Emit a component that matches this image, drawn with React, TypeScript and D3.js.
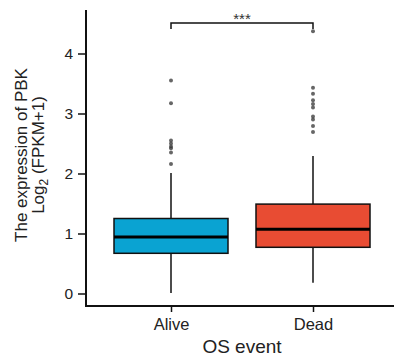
import React, { useEffect, useRef } from "react";
import * as d3 from "d3";

const groups = ["Alive", "Dead"];
const colors = ["#0AA3D2", "#E84C33"];
// [lowerWhisker, q1, median, q3, upperWhisker]
const boxStats = [
  [0.01, 0.67, 0.94, 1.25, 2.01],
  [0.18, 0.77, 1.07, 1.49, 2.29],
];
const aliveOutliers = [3.55, 3.17, 2.55, 2.5, 2.45, 2.42, 2.35, 2.16];
const deadOutliers = [4.37, 3.43, 3.33, 3.22, 3.16, 3.1, 2.95, 2.9, 2.79, 2.69];
const yTicks = [0, 1, 2, 3, 4];

const font = "'Liberation Sans', Arial, sans-serif";

export default function App() {
  const ref = useRef<SVGSVGElement>(null);

  useEffect(() => {
    const svg = d3.select(ref.current);
    svg.selectAll("*").remove();

    const x = d3.scalePoint<string>().domain(groups).range([171, 313]);
    const y = d3.scaleLinear().domain([0, 4]).range([293.5, 53.5]);
    const boxW = 114;

    // axes
    const yAxis = svg.append("g").attr("transform", "translate(86,0)")
      .call(d3.axisLeft(y).tickValues(yTicks).tickSize(8).tickPadding(5).tickFormat(d3.format("d")));
    yAxis.select(".domain").remove();
    yAxis.selectAll("line").attr("stroke", "#111").attr("stroke-width", 1.5);
    yAxis.selectAll("text").attr("font-size", 15.5).attr("font-family", font).attr("fill", "#222");
    svg.append("line").attr("x1", 86).attr("x2", 86).attr("y1", 10).attr("y2", 306.5)
      .attr("stroke", "#111").attr("stroke-width", 2);

    const xAxis = svg.append("g").attr("transform", "translate(0,306)")
      .call(d3.axisBottom(x).tickSize(6).tickPadding(6));
    xAxis.select(".domain").remove();
    xAxis.selectAll("line").attr("stroke", "#111").attr("stroke-width", 1.5);
    xAxis.selectAll("text").attr("font-size", 16.5).attr("font-family", font).attr("fill", "#222");
    svg.append("line").attr("x1", 85).attr("x2", 394).attr("y1", 306).attr("y2", 306)
      .attr("stroke", "#111").attr("stroke-width", 2);

    // boxes
    groups.forEach((g, i) => {
      const [lo, q1, med, q3, hi] = boxStats[i];
      const cx = x(g)!;
      const gg = svg.append("g");
      gg.append("line").attr("x1", cx).attr("x2", cx).attr("y1", y(hi)).attr("y2", y(q3))
        .attr("stroke", "#111").attr("stroke-width", 1.5);
      gg.append("line").attr("x1", cx).attr("x2", cx).attr("y1", y(q1)).attr("y2", y(lo))
        .attr("stroke", "#111").attr("stroke-width", 1.5);
      gg.append("rect").attr("x", cx - boxW / 2).attr("width", boxW)
        .attr("y", y(q3)).attr("height", y(q1) - y(q3))
        .attr("fill", colors[i]).attr("stroke", "#111").attr("stroke-width", 1.5);
      gg.append("line").attr("x1", cx - boxW / 2).attr("x2", cx + boxW / 2)
        .attr("y1", y(med)).attr("y2", y(med)).attr("stroke", "#000").attr("stroke-width", 3);
      const outs = i === 0 ? aliveOutliers : deadOutliers;
      gg.selectAll("circle").data(outs).join("circle")
        .attr("cx", cx).attr("cy", (d) => y(d)).attr("r", 2)
        .attr("fill", "#333").attr("fill-opacity", 0.75);
    });

    // significance bracket
    const by = 23;
    svg.append("path")
      .attr("d", `M${x("Alive")},${by + 6}V${by}H${x("Dead")}V${by + 6}`)
      .attr("fill", "none").attr("stroke", "#111").attr("stroke-width", 1.5);
    svg.append("text").attr("x", (x("Alive")! + x("Dead")!) / 2).attr("y", by + 0.5)
      .attr("text-anchor", "middle").attr("font-size", 15).attr("font-family", font)
      .attr("fill", "#333").text("***");

    // axis titles
    svg.append("text").attr("x", 242).attr("y", 353).attr("text-anchor", "middle")
      .attr("font-size", 19).attr("font-family", font).attr("fill", "#222").text("OS event");

    const yl = svg.append("text").attr("transform", "translate(0,155) rotate(-90)")
      .attr("text-anchor", "middle").attr("font-size", 17).attr("font-family", font).attr("fill", "#222");
    yl.append("tspan").attr("x", 0).attr("y", 27).text("The expression of PBK");
    const l2 = yl.append("tspan").attr("x", 0).attr("y", 44);
    l2.append("tspan").text("Log");
    l2.append("tspan").attr("font-size", 12).attr("dy", 4).text("2");
    l2.append("tspan").attr("dy", -4).text(" (FPKM+1)");
  }, []);

  return (
    <svg ref={ref} width={394} height={358}
      style={{ position: "absolute", left: 0, top: 0, background: "#fff" }} />
  );
}
